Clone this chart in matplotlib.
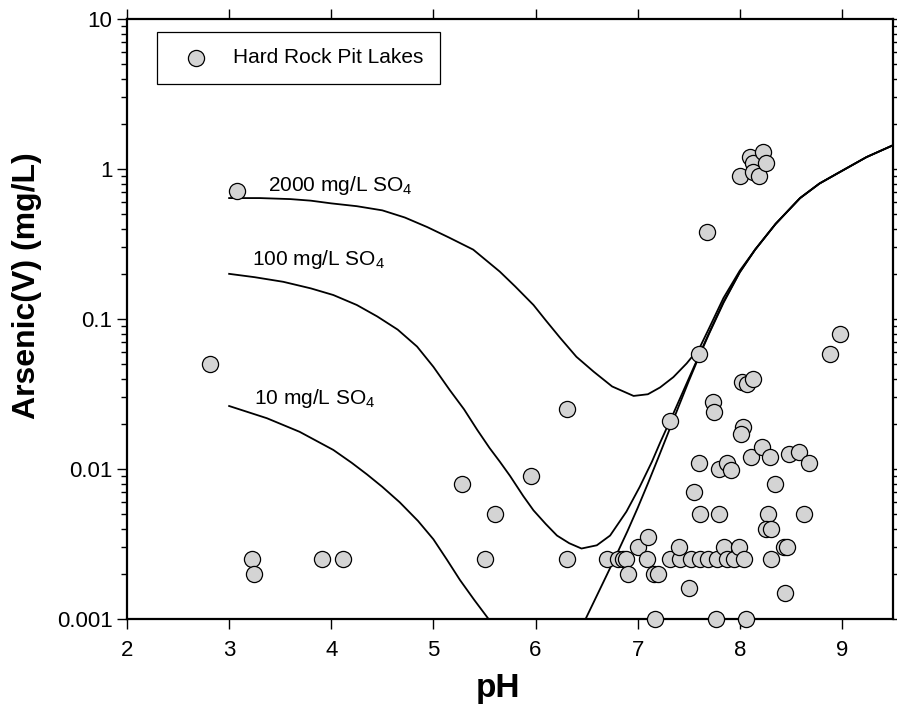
import numpy as np
import matplotlib
matplotlib.use("Agg")
import matplotlib.pyplot as plt
from matplotlib.ticker import FixedLocator, LogLocator, FuncFormatter, NullFormatter

plt.rcParams['font.family'] = ['Liberation Sans', 'DejaVu Sans']
plt.rcParams['mathtext.fontset'] = 'custom'
plt.rcParams['mathtext.rm'] = 'Liberation Sans'
plt.rcParams['mathtext.default'] = 'regular'

# Hard rock pit lake samples (pH, As(V) mg/L)
lake_ph = [3.08, 2.81, 3.22, 3.24, 3.91, 4.11, 5.28, 5.51, 5.60, 5.96,
           6.31, 6.31, 6.70, 6.81, 6.86, 6.89, 6.91, 7.00, 7.10, 7.09,
           7.16, 7.20, 7.17, 7.32, 7.32, 7.41, 7.40, 7.50, 7.52, 7.55,
           7.60, 7.60, 7.61, 7.61, 7.68, 7.69, 7.74, 7.75, 7.77, 7.78,
           7.80, 7.80, 7.85, 7.87, 7.87, 7.91, 7.94, 7.99, 8.00, 8.02,
           8.07, 8.13, 8.03, 8.01, 8.04, 8.06, 8.10, 8.13, 8.13, 8.19,
           8.23, 8.26, 8.11, 8.22, 8.30, 8.28, 8.26, 8.31, 8.31, 8.34,
           8.43, 8.46, 8.44, 8.48, 8.58, 8.63, 8.68, 8.88, 8.98]
lake_as = [0.71, 0.050, 0.0025, 0.0020, 0.0025, 0.0025, 0.0080, 0.0025, 0.0050, 0.0090,
           0.025, 0.0025, 0.0025, 0.0025, 0.0025, 0.0025, 0.0020, 0.0030, 0.0035, 0.0025,
           0.0020, 0.0020, 0.0010, 0.021, 0.0025, 0.0025, 0.0030, 0.0016, 0.0025, 0.0070,
           0.058, 0.011, 0.0050, 0.0025, 0.38, 0.0025, 0.028, 0.024, 0.0010, 0.0025,
           0.0100, 0.0050, 0.0030, 0.011, 0.0025, 0.0099, 0.0025, 0.0030, 0.90, 0.038,
           0.037, 0.040, 0.019, 0.017, 0.0025, 0.0010, 1.21, 1.09, 0.96, 0.90,
           1.30, 1.09, 0.012, 0.014, 0.012, 0.0050, 0.0040, 0.0040, 0.0025, 0.0080,
           0.0030, 0.0030, 0.0015, 0.0125, 0.013, 0.0050, 0.011, 0.058, 0.079]

# common high-pH branch shared by all curves
tail_ph = [8.15, 8.35, 8.59, 8.78, 8.95, 9.24, 9.50]
tail_as = [0.29, 0.43, 0.64, 0.80, 0.93, 1.20, 1.44]

# 2000 mg/L SO4
s2000_ph = [3.00, 3.30, 3.60, 3.80, 4.00, 4.25, 4.50, 4.72, 4.94, 5.15,
            5.39, 5.65, 5.80, 5.98, 6.10, 6.24, 6.40, 6.57, 6.75, 6.96,
            7.10, 7.22, 7.35, 7.48, 7.61, 7.70, 7.84, 8.00]
s2000_as = [0.64, 0.64, 0.63, 0.615, 0.59, 0.565, 0.53, 0.475, 0.41, 0.35,
            0.29, 0.207, 0.165, 0.124, 0.098, 0.075, 0.056, 0.0445, 0.0355, 0.0307,
            0.0315, 0.035, 0.041, 0.0506, 0.065, 0.087, 0.138, 0.21]

# 100 mg/L SO4
s100_ph = [3.00, 3.25, 3.53, 3.80, 4.02, 4.25, 4.45, 4.65, 4.84, 5.00,
           5.16, 5.30, 5.43, 5.55, 5.65, 5.75, 5.88, 5.98, 6.10, 6.21,
           6.33, 6.45, 6.60, 6.73, 6.89, 7.02, 7.14, 7.22, 7.35, 7.50,
           7.60, 7.70, 7.84, 8.00]
s100_as = [0.20, 0.19, 0.177, 0.16, 0.1445, 0.124, 0.104, 0.085, 0.0655, 0.048,
           0.0336, 0.025, 0.0182, 0.0138, 0.0112, 0.0090, 0.0066, 0.0053, 0.0043, 0.0036,
           0.0032, 0.00295, 0.0031, 0.0036, 0.0052, 0.0076, 0.0112, 0.0150, 0.0235, 0.040,
           0.057, 0.081, 0.130, 0.205]

# 10 mg/L SO4, low-pH branch and high-pH branch
s10a_ph = [3.00, 3.37, 3.69, 4.02, 4.20, 4.35, 4.50, 4.67, 4.85, 5.00,
           5.13, 5.26, 5.40, 5.54]
s10a_as = [0.0263, 0.0218, 0.0177, 0.0134, 0.0110, 0.0092, 0.0076, 0.0060, 0.0045, 0.0034,
           0.0025, 0.00182, 0.00134, 0.0010]
s10b_ph = [6.49, 6.60, 6.70, 6.80, 6.90, 7.00, 7.10, 7.20, 7.30, 7.40,
           7.50, 7.60, 7.70, 7.84, 8.00]
s10b_as = [0.0010, 0.00143, 0.00198, 0.00275, 0.00385, 0.0055, 0.0080, 0.0118, 0.0175, 0.026,
           0.0385, 0.056, 0.080, 0.128, 0.205]

fig = plt.figure(figsize=(8.97, 7.08), dpi=100)
ax = fig.add_axes([127/897, 1 - 619/708, 766/897, 600/708])

lw = 1.3
ax.plot(s2000_ph + tail_ph, s2000_as + tail_as, color='black', lw=lw)
ax.plot(s100_ph + tail_ph, s100_as + tail_as, color='black', lw=lw)
ax.plot(s10a_ph, s10a_as, color='black', lw=lw)
ax.plot(s10b_ph + tail_ph, s10b_as + tail_as, color='black', lw=lw)

ax.scatter(lake_ph, lake_as, s=135, facecolor='#d4d4d4', edgecolor='black',
           linewidths=0.9, zorder=5, clip_on=False, label='Hard Rock Pit Lakes')

ax.text(3.38, 0.78, r'2000 mg/L SO$_4$', fontsize=15, va='center', ha='left')
ax.text(3.22, 0.25, r'100 mg/L SO$_4$', fontsize=15, va='center', ha='left')
ax.text(3.24, 0.0297, r'10 mg/L SO$_4$', fontsize=15, va='center', ha='left')

ax.set_yscale('log')
ax.set_xlim(2, 9.5)
ax.set_ylim(0.001, 10)

ax.xaxis.set_major_locator(FixedLocator([2, 3, 4, 5, 6, 7, 8, 9]))
ax.yaxis.set_major_locator(FixedLocator([0.001, 0.01, 0.1, 1, 10]))
ax.yaxis.set_minor_locator(LogLocator(base=10, subs=np.arange(2, 10)))
ax.yaxis.set_minor_formatter(NullFormatter())
ax.yaxis.set_major_formatter(FuncFormatter(lambda v, p: '%g' % v))

ax.tick_params(which='both', direction='out', top=True, right=True,
               labelsize=16, width=1.0, color='black')
ax.tick_params(which='major', length=7)
ax.tick_params(which='minor', length=4)
ax.tick_params(axis='x', which='major', pad=8)
for sp in ax.spines.values():
    sp.set_linewidth(1.6)

ax.set_xlabel('pH', fontsize=24, fontweight='bold')
ax.xaxis.set_label_coords(0.484, -0.115)
ax.xaxis.label.set_va('center')
ax.set_ylabel('Arsenic(V) (mg/L)', fontsize=23, fontweight='bold')
ax.yaxis.set_label_coords(-0.131, 0.555)
ax.yaxis.label.set_va('center')

leg = ax.legend(loc='upper left', bbox_to_anchor=(0.039, 0.978), borderaxespad=0,
                fontsize=15, frameon=True, fancybox=False, framealpha=1,
                edgecolor='black', borderpad=0.78, handlelength=2.2,
                handletextpad=0.68, scatterpoints=1)
leg.get_frame().set_linewidth(0.9)

fig.savefig('out.png', dpi=100)
